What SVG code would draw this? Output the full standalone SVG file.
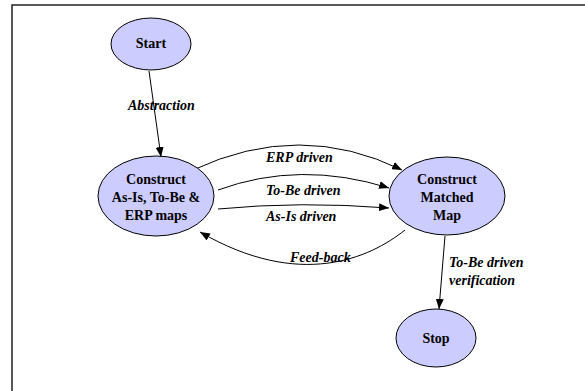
<svg xmlns="http://www.w3.org/2000/svg" width="585" height="391" viewBox="0 0 585 391">
<style>
.node ellipse{fill:#ccccff;stroke:#000;stroke-width:1}
.node text{font-family:"Liberation Serif",serif;font-weight:bold;font-size:14px;text-anchor:middle;fill:#000}
.edges path{fill:none;stroke:#000;stroke-width:1;marker-end:url(#arr)}
.lbl{font-family:"Liberation Serif",serif;font-weight:bold;font-style:italic;font-size:14px;fill:#000}
</style>
<defs>
<marker id="arr" viewBox="0 0 10 8" refX="10" refY="4" markerWidth="10" markerHeight="8" markerUnits="userSpaceOnUse" orient="auto">
<path d="M0,0 L10,4 L0,8 Z" fill="#000"/>
</marker>
</defs>
<rect width="585" height="391" fill="#fff"/>
<path d="M12,391 V5 H585" fill="none" stroke="#222" stroke-width="1.5"/>
<g class="edges">
<path d="M149,71 L161,157"/>
<path d="M193,170 Q300,120 402,170"/>
<path d="M218,190 Q300,160 389,188"/>
<path d="M218,209 Q300,201 389,208"/>
<path d="M405,230 C370,258 300,290 200,232"/>
<path d="M445,236 L439,309"/>
</g>
<g id="labels">
<text class="lbl" x="128" y="110">Abstraction</text>
<text class="lbl" x="266" y="162">ERP driven</text>
<text class="lbl" x="266" y="195">To-Be driven</text>
<text class="lbl" x="266" y="221">As-Is driven</text>
<text class="lbl" x="290" y="262">Feed-back</text>
<text class="lbl" x="449" y="267">To-Be driven</text>
<text class="lbl" x="449" y="285">verification</text>
</g>
<g id="start" class="node">
<ellipse cx="151" cy="44" rx="40" ry="26"/>
<text x="151" y="48">Start</text>
</g>
<g id="construct-maps" class="node">
<ellipse cx="156" cy="196" rx="58" ry="40"/>
<text x="156" y="184">Construct</text>
<text x="156" y="202">As-Is, To-Be &amp;</text>
<text x="156" y="220">ERP maps</text>
</g>
<g id="matched-map" class="node">
<ellipse cx="447" cy="196" rx="58" ry="39"/>
<text x="447" y="184">Construct</text>
<text x="447" y="202">Matched</text>
<text x="447" y="220">Map</text>
</g>
<g id="stop" class="node">
<ellipse cx="436" cy="338" rx="40" ry="29"/>
<text x="436" y="343">Stop</text>
</g>
</svg>
